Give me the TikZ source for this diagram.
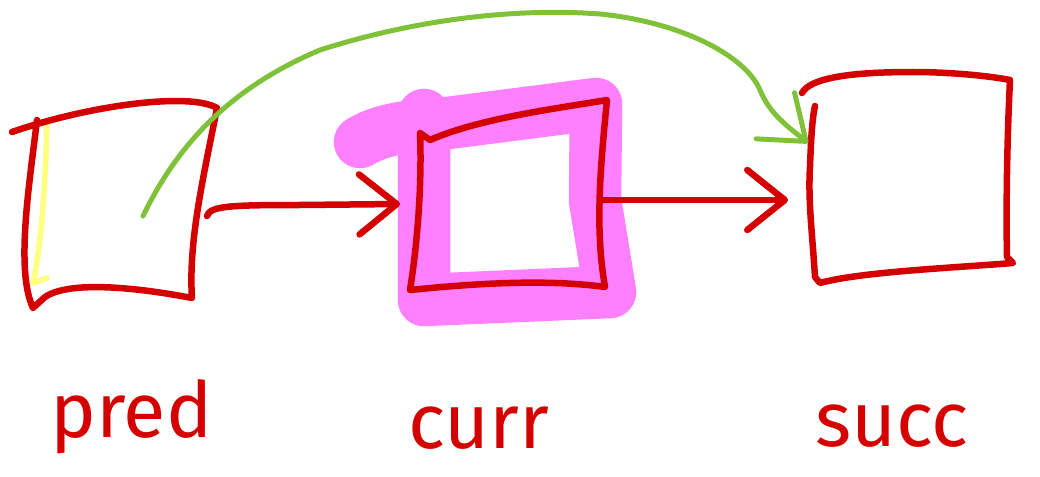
\documentclass[tikz,border=0pt]{standalone}
\usepackage{fontspec}
\setmainfont{Fira Sans}
\usepackage{xcolor}
\usepackage{tikz}
\usetikzlibrary{arrows.meta, positioning, calc}

\definecolor{penred}{HTML}{D40000}
\definecolor{pengreen}{HTML}{7FC23A}
\definecolor{penpink}{HTML}{FF80FF}
\definecolor{penyellow}{HTML}{FFFF80}

\begin{document}
\begin{tikzpicture}[
    x=0.2mm, y=-0.2mm,
    redpen/.style={draw=penred, line width=1.3mm, line cap=round, line join=round},
    greenpen/.style={draw=pengreen, line width=1mm, line cap=round, line join=round},
    highlight/.style={draw=penpink, line width=10.5mm, line cap=round, line join=round},
    marker/.style={draw=penyellow, line width=1.1mm, line cap=round, line join=round},
    redarrow/.style={redpen, -{Straight Barb[length=7.5mm, width=12mm, line width=1.3mm, round]}},
    greenarrow/.style={greenpen, -{Straight Barb[length=8mm, width=12mm, line width=1mm, round]}},
    label/.style={text=penred, anchor=base west, inner sep=0pt, font=\fontsize{44}{44}\selectfont}
]
    \useasboundingbox (0,0) rectangle (1040,477);

    % connector ends
    \coordinate (pred-out) at (207,216);
    \coordinate (pred-src) at (143,216);
    \coordinate (curr-in)  at (400,204);
    \coordinate (curr-out) at (603,200);
    \coordinate (succ-in)  at (788,200);
    \coordinate (succ-top) at (808,143);

    % highlight round curr
    \draw[highlight] (360,142) .. controls (380,130) and (405,126) .. (440,124)
        -- (596,104) -- (595,200) -- (610,292) -- (424,300) -- (424,115);

    % pred
    \draw[marker] (47,123) .. controls (45,200) and (40,250) .. (33,283) -- (47,278);
    \draw[redpen] (12,132) .. controls (90,105) and (190,92) .. (217,108)
        .. controls (205,170) and (188,240) .. (192,298)
        .. controls (140,288) and (70,280) .. (45,297) -- (33,308)
        .. controls (15,270) and (30,180) .. (37,120);

    % curr
    \draw[redpen] (420,133) -- (430,140) .. controls (480,118) and (560,108) .. (607,100)
        .. controls (600,170) and (595,230) .. (605,287)
        .. controls (540,278) and (460,285) .. (410,290)
        .. controls (418,240) and (422,180) .. (420,133);

    % succ
    \draw[redpen] (802,93) .. controls (810,78) and (850,72) .. (913,72)
        .. controls (950,72) and (990,76) .. (1010,80)
        .. controls (1007,140) and (1006,210) .. (1007,257) -- (1013,263)
        .. controls (950,268) and (860,272) .. (820,283) -- (815,277)
        .. controls (812,230) and (808,200) .. (810,167)
        .. controls (811,140) and (812,120) .. (815,106);

    % next pointers
    \draw[redarrow] (pred-out) .. controls (210,206) and (230,205) .. (300,205) -- (curr-in);
    \draw[redarrow] (curr-out) -- (succ-in);
    \draw[greenarrow] (pred-src) .. controls (175,150) and (225,90) .. (320,50)
        .. controls (420,18) and (520,8) .. (600,14)
        .. controls (680,22) and (745,55) .. (760,90)
        .. controls (770,115) and (790,128) .. (succ-top);

    \node[label] (pred) at (50,437) {pred};
    \node[label] (curr) at (408,448) {curr};
    \node[label] (succ) at (815,446) {succ};
\end{tikzpicture}
\end{document}
